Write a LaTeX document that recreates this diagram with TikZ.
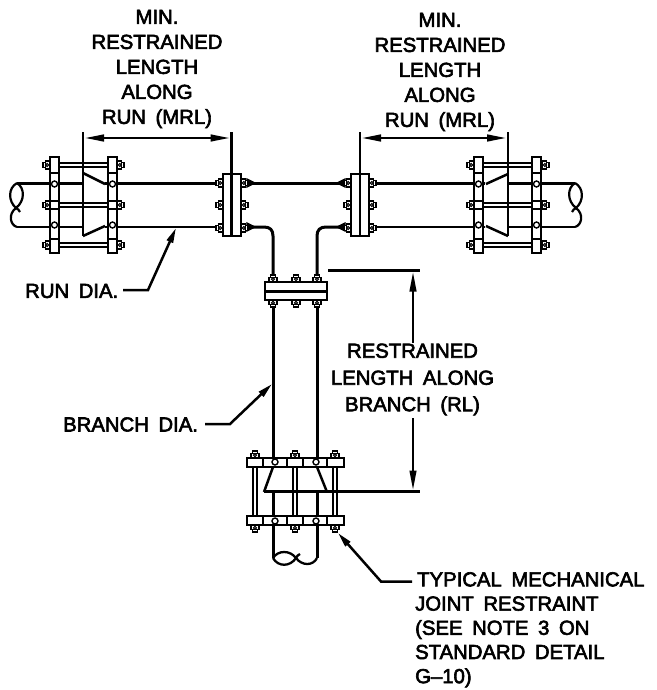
\documentclass[tikz,border=0pt]{standalone}
\usepackage{fontspec}
\setmainfont{Liberation Sans}[WordSpace=1.7,FakeBold=3]
\usetikzlibrary{arrows.meta}
\tikzset{
  thickln/.style={line width=3pt,black},
  midln/.style={line width=2.5pt,black},
  thinln/.style={line width=2pt,black},
  dimln/.style={line width=2.8pt,black,{Triangle[length=20pt,width=6.5pt]}-{Triangle[length=20pt,width=6.5pt]}},
  vdim/.style={line width=2.5pt,black,-{Triangle[length=20pt,width=6.5pt]}},
  leader/.style={line width=2.5pt,black,-{Triangle[length=15pt,width=6.5pt]}},
  lbl/.style={inner sep=0pt,align=center,font=\fontsize{20.3}{25}\selectfont},
  flg/.style={draw=black,fill=white,line width=1.8pt}
}
\newcommand{\hnut}[3]{%
  \draw[flg,line width=1.3pt] (#1,#2-4) -- (#1+#3*4.5,#2-4) -- (#1+#3*4.5,#2+4) -- (#1,#2+4) -- cycle;
  \draw[flg,line width=1.3pt] (#1+#3*4.5,#2-2.8) rectangle (#1+#3*7,#2+2.8);
  \draw[line width=1.1pt,fill=white] (#1+#3*2.8,#2) circle (1.5);}
\newcommand{\vnut}[3]{%
  \draw[flg,line width=1.3pt] (#1-4,#2) -- (#1-4,#2+#3*4.5) -- (#1+4,#2+#3*4.5) -- (#1+4,#2) -- cycle;
  \draw[flg,line width=1.3pt] (#1-2.8,#2+#3*4.5) rectangle (#1+2.8,#2+#3*7);
  \draw[line width=1.1pt,fill=white] (#1,#2+#3*2.8) circle (1.5);}
\newcommand{\hole}[2]{\draw[line width=1.4pt,fill=white] (#1,#2) circle (3);}
\begin{document}
\begin{tikzpicture}[x=1pt,y=-1pt]
\useasboundingbox (0,0) rectangle (656,690);
% ---- run pipe lines
\draw[thickln] (17,183) -- (83,183);
\draw[thinln] (17,227) -- (83,227);
\draw[thickln] (105,183) -- (223,183);
\draw[thinln] (105,227) -- (223,227);
\draw[thickln] (369,183) -- (485,183);
\draw[thinln] (369,227) -- (485,227);
\draw[thickln] (508,183) -- (575,183);
\draw[thinln] (508,227) -- (575,227);
% ---- pipe breaks
\draw[line width=2.2pt] (17,183) .. controls (25,188) and (25,201) .. (16,208)
   .. controls (8,214) and (10,225) .. (17,227);
\draw[line width=2.2pt] (17,183) .. controls (8,188) and (8,201) .. (16,208)
   .. controls (18,209) and (19,210) .. (20,212);
\draw[line width=2.2pt] (575,183) .. controls (567,188) and (567,201) .. (576,208)
   .. controls (584,214) and (582,225) .. (575,227);
\draw[line width=2.2pt] (575,183) .. controls (584,188) and (584,201) .. (576,208)
   .. controls (574,209) and (573,210) .. (572,212);
% ---- tee
\draw[thickln] (250,183) -- (340,183);
\draw[thickln] (248,227) -- (264,227) .. controls (270,227) and (273,230) .. (273,236) -- (273,276);
\draw[thickln] (344,227) -- (326,227) .. controls (320,227) and (317,230) .. (317,236) -- (317,276);
\draw[line width=1.2pt,fill=black] (247,179) -- (255,183) -- (247,187) -- cycle;
\draw[line width=1.2pt,fill=black] (345,179) -- (337,183) -- (345,187) -- cycle;
\draw[line width=1.2pt,fill=black] (247,223) -- (255,227) -- (247,231) -- cycle;
\draw[line width=1.2pt,fill=black] (345,223) -- (337,227) -- (345,231) -- cycle;
% ---- branch pipe
\draw[thickln] (273,300) -- (273,458);
\draw[thickln] (317,300) -- (317,458);
\draw[thickln] (273,492) -- (273,558);
\draw[thickln] (317,492) -- (317,558);
\draw[line width=2.3pt] (273,558) .. controls (278,550) and (290,550) .. (296,558)
   .. controls (302,566) and (313,566) .. (317,558);
\draw[line width=2.3pt] (273,558) .. controls (278,567) and (290,567) .. (296,558)
   .. controls (297,556) and (298,555) .. (300,554);
% ---- left restraint
\foreach \y in {165,205,245}{\draw[line width=1.3pt] (59,\y-2) -- (108,\y-2) (59,\y+2) -- (108,\y+2);}
\foreach \y in {165,205,245}{\hnut{50}{\y}{-1}\hnut{117}{\y}{1}}
\draw[flg] (50,157) rectangle (59,253);
\draw[flg] (108,157) rectangle (117,253);
\foreach \y in {173,201,209,239}{\draw[line width=1.5pt] (50,\y) -- (59,\y) (108,\y) -- (117,\y);}
\draw[midln] (83,173) -- (105,184);
\draw[midln] (83,236) -- (105,226);
\hole{54.5}{184}\hole{54.5}{225}\hole{112.5}{184}\hole{112.5}{225}
% ---- right restraint
\foreach \y in {165,205,245}{\draw[line width=1.3pt] (483,\y-2) -- (532,\y-2) (483,\y+2) -- (532,\y+2);}
\foreach \y in {165,205,245}{\hnut{474}{\y}{-1}\hnut{542}{\y}{1}}
\draw[flg] (474,157) rectangle (483,253);
\draw[flg] (532,157) rectangle (541,253);
\foreach \y in {173,201,209,239}{\draw[line width=1.5pt] (474,\y) -- (483,\y) (532,\y) -- (541,\y);}
\draw[midln] (508,174) -- (486,184);
\draw[midln] (508,236) -- (486,226);
\hole{478.5}{184}\hole{478.5}{225}\hole{536.5}{184}\hole{536.5}{225}
% ---- run flanges
\foreach \y in {183,205,228}{\hnut{223}{\y}{-1}\hnut{241}{\y}{1}\hnut{351}{\y}{-1}\hnut{369}{\y}{1}}
\draw[flg] (223,174) rectangle (241,236);
\draw[flg] (351,174) rectangle (369,236);
% ---- branch flange
\foreach \x in {273,296,317}{\vnut{\x}{282}{-1}\vnut{\x}{300}{1}}
\draw[flg] (265,282) rectangle (327,300);
\draw[thickln] (264,291) -- (328,291);
% ---- lower restraint
\foreach \x in {255,295,335}{\draw[line width=1.3pt] (\x-2,467) -- (\x-2,516) (\x+2,467) -- (\x+2,516);}
\foreach \x in {255,295,335}{\vnut{\x}{458}{-1}\vnut{\x}{525}{1}}
\draw[flg] (247,458) rectangle (344,467);
\draw[flg] (247,516) rectangle (344,525);
\foreach \x in {263,287,303,327}{\draw[line width=1.5pt] (\x,458) -- (\x,467) (\x,516) -- (\x,525);}
\draw[midln] (273,467) -- (264,492);
\draw[midln] (317,467) -- (327,492);
\hole{275}{462}\hole{316}{462}\hole{275}{521}\hole{316}{521}
% ---- extension lines
\coordinate (eLa) at (83,132); \coordinate (eLb) at (83,236);
\coordinate (eMa) at (231.5,132); \coordinate (eMb) at (231.5,237);
\coordinate (eNa) at (360,132); \coordinate (eNb) at (360,237);
\coordinate (eRa) at (508,132); \coordinate (eRb) at (508,236);
\draw[midln] (eLa) -- (eLb);
\draw[midln] (eMa) -- (eMb);
\draw[midln] (eNa) -- (eNb);
\draw[midln] (eRa) -- (eRb);
\draw[midln] (328,270.5) -- (420,270.5);
\draw[midln] (264,491.5) -- (420,491.5);
% ---- dimension arrows
\coordinate (aL1) at (84,138); \coordinate (aL2) at (230.5,138);
\coordinate (aR1) at (361,138); \coordinate (aR2) at (507,138);
\draw[dimln] (aL1) -- (aL2);
\draw[dimln] (aR1) -- (aR2);
% ---- labels
\node[lbl] (tL) at (157,69) {MIN.\\RESTRAINED\\LENGTH\\ALONG\\RUN (MRL)};
\node[lbl] (tR) at (440,72) {MIN.\\RESTRAINED\\LENGTH\\ALONG\\RUN (MRL)};
\node[lbl] (tC) at (412.5,379.5) {RESTRAINED\\[2pt]LENGTH ALONG\\[1.5pt]BRANCH (RL)};
\coordinate (dTop) at (413,271.5);
\coordinate (dBot) at (413,490.5);
\coordinate (dA) at (413,343);
\coordinate (dB) at (413,418);
\draw[vdim] (dA) -- (dTop);
\draw[vdim] (dB) -- (dBot);
\node[lbl,anchor=west] (tRun) at (25,291) {RUN DIA.};
\node[lbl,anchor=west] (tBr) at (63,424.5) {BRANCH DIA.};
\node[lbl,align=left,anchor=north west,font=\fontsize{20.3}{24.2}\selectfont] (tT) at (415,572) {\hspace{2pt}TYPICAL MECHANICAL\\JOINT RESTRAINT\\(SEE NOTE 3 ON\\STANDARD DETAIL\\G--10)};
\coordinate (rs) at (123,290); \coordinate (rk) at (148,290); \coordinate (rt) at (176,228);
\coordinate (bs) at (205,424); \coordinate (bk) at (230,424); \coordinate (bt) at (272,384);
\coordinate (js) at (412,581.5); \coordinate (jk) at (381,581.5); \coordinate (jt) at (338,533);
\draw[leader] (rs) -- (rk) -- (rt);
\draw[leader] (bs) -- (bk) -- (bt);
\draw[leader] (js) -- (jk) -- (jt);
\end{tikzpicture}
\end{document}
